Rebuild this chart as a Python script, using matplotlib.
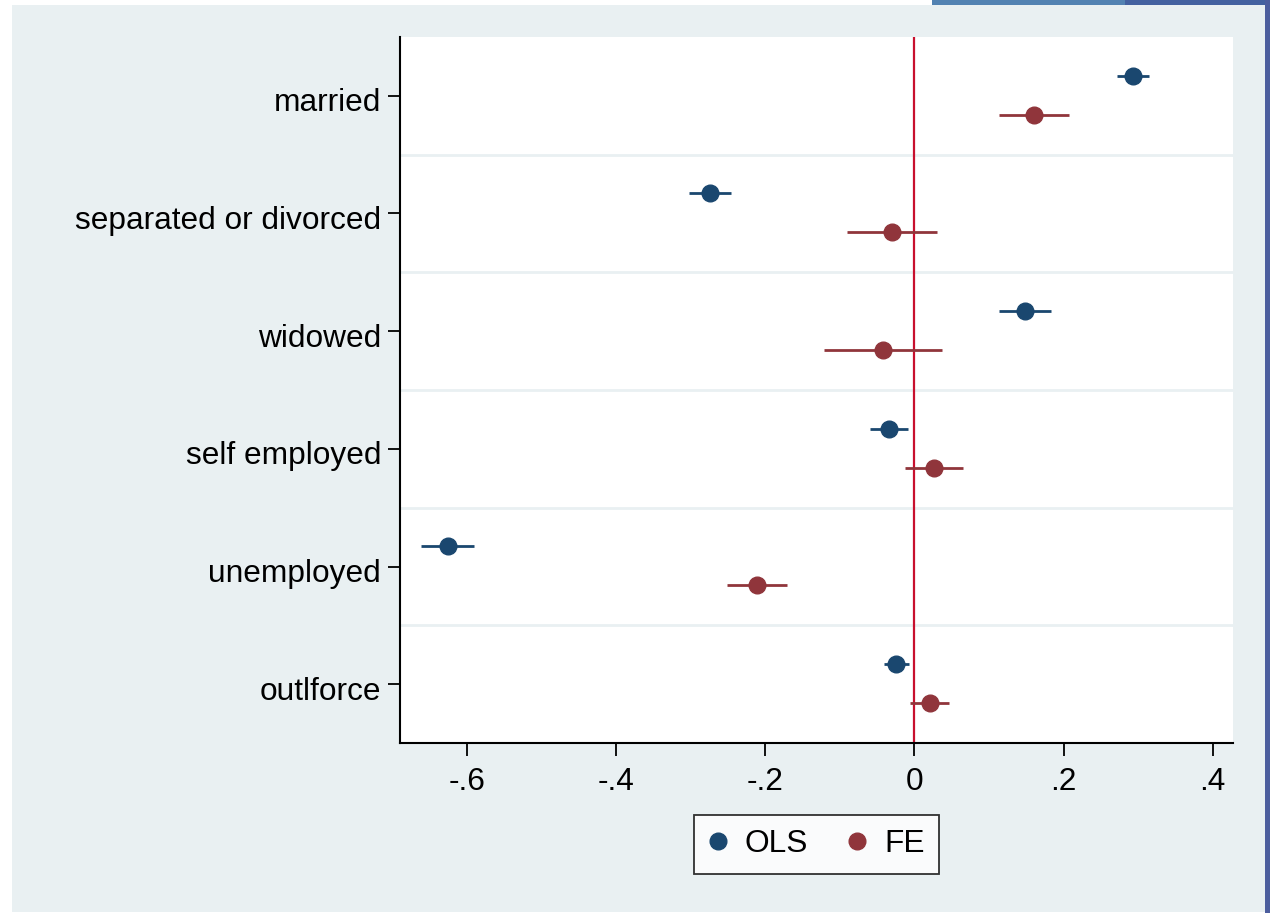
import numpy as np
import matplotlib
matplotlib.use("Agg")
import matplotlib.pyplot as plt
import matplotlib.transforms as mtransforms
from matplotlib.patches import Rectangle

plt.rcParams['font.family'] = ['Liberation Sans', 'DejaVu Sans']

# coefficient estimates and 95% CIs
labels = ['married', 'separated or divorced', 'widowed', 'self employed', 'unemployed', 'outlforce']
ols_b = [0.293, -0.274, 0.148, -0.034, -0.626, -0.025]
ols_lo = [0.272, -0.303, 0.113, -0.060, -0.662, -0.041]
ols_hi = [0.314, -0.246, 0.183, -0.009, -0.591, -0.007]
fe_b = [0.160, -0.030, -0.042, 0.026, -0.211, 0.021]
fe_lo = [0.113, -0.090, -0.121, -0.013, -0.251, -0.006]
fe_hi = [0.207, 0.030, 0.037, 0.065, -0.171, 0.046]
xticks = [-0.6, -0.4, -0.2, 0, 0.2, 0.4]
xticklabels = ['-.6', '-.4', '-.2', '0', '.2', '.4']

ols_col = '#1A476F'
fe_col = '#90353B'
bg_col = '#E9F0F2'

fig = plt.figure(figsize=(12.7, 9.13), dpi=100)
fig.patch.set_facecolor('white')
W, H = 1270, 913
# outer background panel
fig.patches.append(Rectangle((12 / W, 1 / H), 1253 / W, (H - 6) / H, transform=fig.transFigure,
                             facecolor=bg_col, edgecolor='none', zorder=-10))
# screenshot edge bits
fig.patches.append(Rectangle((932 / W, (H - 5) / H), 193 / W, 5 / H, transform=fig.transFigure,
                             facecolor='#5282B2', edgecolor='none', zorder=-5))
fig.patches.append(Rectangle((1125 / W, (H - 5) / H), 145 / W, 5 / H, transform=fig.transFigure,
                             facecolor='#4361A0', edgecolor='none', zorder=-5))
fig.patches.append(Rectangle((1265 / W, 0), 5 / W, 1, transform=fig.transFigure,
                             facecolor='#4C5E9E', edgecolor='none', zorder=-5))

ax = fig.add_axes([400 / W, (H - 743) / H, 833 / W, 706 / H])
ax.set_facecolor('white')

y = np.arange(len(labels))
off_ols, off_fe = -0.17, 0.16

ax.errorbar(ols_b, y + off_ols,
            xerr=[np.array(ols_b) - np.array(ols_lo), np.array(ols_hi) - np.array(ols_b)],
            fmt='o', color=ols_col, ms=12, elinewidth=2, capsize=0, label='OLS', zorder=3)
ax.errorbar(fe_b, y + off_fe,
            xerr=[np.array(fe_b) - np.array(fe_lo), np.array(fe_hi) - np.array(fe_b)],
            fmt='o', color=fe_col, ms=12, elinewidth=2, capsize=0, label='FE', zorder=3)

ax.axvline(0, color='#C8102E', lw=1.6, zorder=2)

# grid lines between categories
for g in y[:-1] + 0.5:
    ax.axhline(g, color=bg_col, lw=2, zorder=1)

ax.set_xlim(-0.690, 0.4273)
ax.set_ylim(5.5, -0.5)
ax.set_yticks(y)
ax.set_yticklabels(labels)
ax.set_xticks(xticks)
ax.set_xticklabels(xticklabels)

for s in ['top', 'right']:
    ax.spines[s].set_visible(False)
for s in ['left', 'bottom']:
    ax.spines[s].set_linewidth(1.5)
    ax.spines[s].set_color('black')
ax.tick_params(axis='both', labelsize=22.8, length=9, width=1.3, direction='out')
ax.tick_params(axis='y', pad=4.5)
ax.tick_params(axis='x', pad=8)

shift = mtransforms.ScaledTranslation(0, -4 / 100, fig.dpi_scale_trans)
for lab in ax.get_yticklabels():
    lab.set_transform(lab.get_transform() + shift)

h1 = plt.Line2D([], [], marker='o', color=ols_col, ls='none', ms=12)
h2 = plt.Line2D([], [], marker='o', color=fe_col, ls='none', ms=12)
leg = ax.legend([h1, h2], ['OLS', 'FE'], loc='upper center', bbox_to_anchor=(0.5, -0.102),
                ncol=2, fontsize=22.8, frameon=True, fancybox=False, borderaxespad=0,
                handlelength=0.6, handletextpad=0.55, columnspacing=1.25, borderpad=0.45)
leg.get_frame().set_edgecolor('black')
leg.get_frame().set_linewidth(1.3)

fig.savefig('out.png', dpi=100, facecolor=fig.get_facecolor())
